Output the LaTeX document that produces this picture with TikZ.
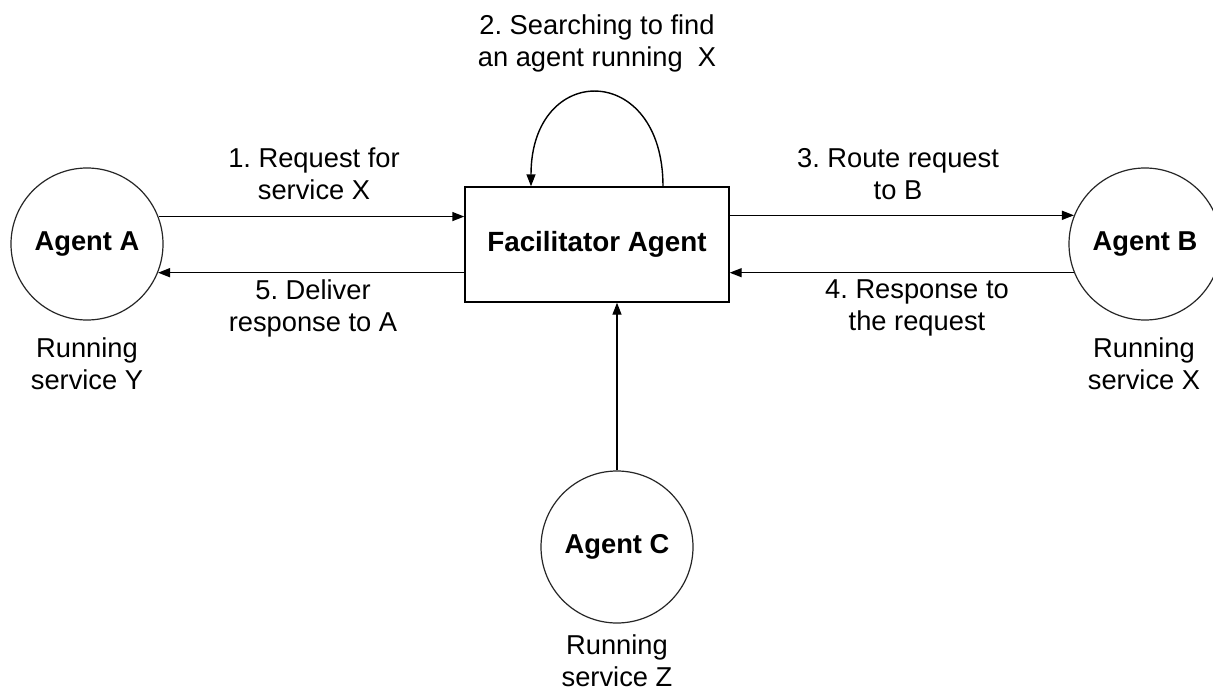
\documentclass[tikz,border=0pt]{standalone}
\usepackage{fontspec}
\setmainfont{Liberation Sans}
\usetikzlibrary{arrows.meta}
\frenchspacing
\begin{document}
\begin{tikzpicture}[x=1pt,y=-1pt,
  every node/.style={font=\fontsize{27.3}{32}\selectfont},
  agent/.style={circle,draw=black!85,line width=1.2pt,minimum size=152pt,inner sep=0pt,font=\fontsize{27.3}{32}\selectfont\bfseries},
  facil/.style={rectangle,draw=black,line width=1.4pt,minimum width=264pt,minimum height=115pt,inner sep=0pt,font=\fontsize{27.8}{32}\selectfont\bfseries},
  lbl/.style={align=center,inner sep=0pt},
  arr/.style={line width=1.4pt,-{Triangle[length=12pt,width=9pt]}}]
\clip (0,0) rectangle (1213,693);
\fill[white] (0,0) rectangle (1213,693);
\node[agent] (A) at (87,244) {Agent A};
\node[agent] (B) at (1145,244) {Agent B};
\node[agent] (C) at (617,547) {Agent C};
\node[facil] (F) at (597,244.5) {Facilitator Agent};
\node[lbl] (la) at (87,364) {Running\\service Y};
\node[lbl] (lb) at (1144,364) {Running\\service X};
\node[lbl] (lc) at (617,661) {Running\\service Z};
\node[lbl] (t1) at (314,174) {1. Request for\\service X};
\node[lbl] (t5) at (313,308) {5. Deliver\\response to A};
\node[lbl] (t3) at (898,174) {3. Route request\\to B};
\node[lbl] (t4) at (917,308) {4. Response to\\the request};
\node[lbl] (t2) at (597,43.5) {2. Searching to find\\an agent running\ \ X};
\draw[arr] (A.21.6) -- (A.21.6 -| F.west);
\draw[arr] (A.-22.4 -| F.west) -- (A.-22.4);
\draw[arr] (F.east |- B.158.4) -- (B.158.4);
\draw[arr] (B.202.4) -- (F.east |- B.202.4);
\draw[arr] (C.north) -- (C.north |- F.south);
\coordinate (l1) at ([xshift=66pt]F.north);
\coordinate (l2) at ([xshift=-66pt]F.north);
\draw[arr] (l1) .. controls +(0,-125) and +(0,-125) .. (l2);
\end{tikzpicture}
\end{document}
